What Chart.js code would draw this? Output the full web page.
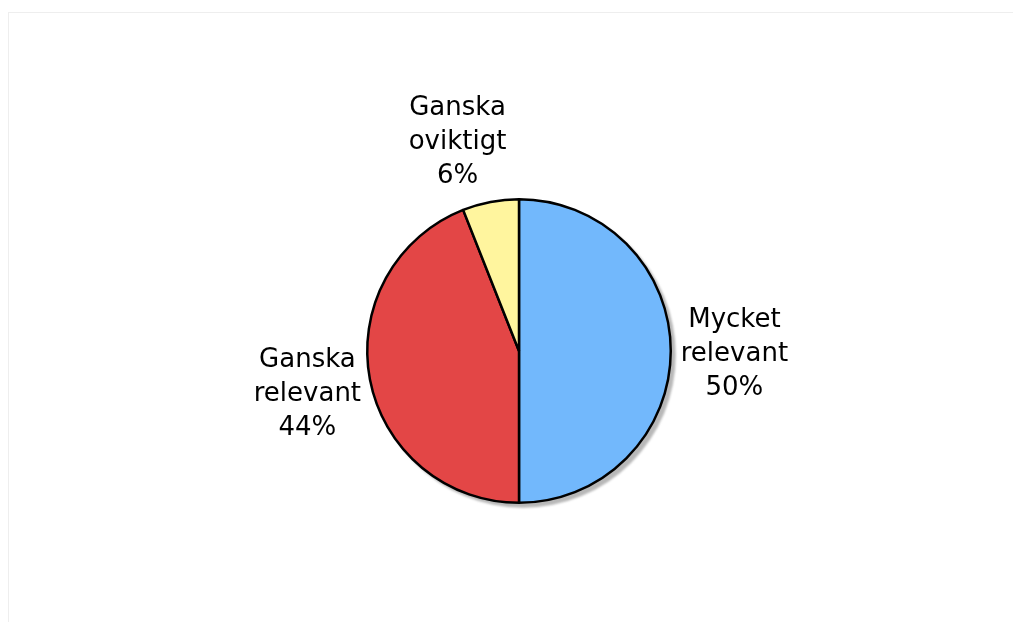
<!DOCTYPE html>
<html>
<head>
<meta charset="utf-8">
<script src="https://cdn.jsdelivr.net/npm/chart.js@4"></script>
<style>
  body { margin: 0; background: #fff; }
  #frame { position: absolute; left: 8px; top: 12px; width: 1020px; height: 630px; border: 1px solid #eeeeee; box-sizing: border-box; }
  #pie { position: absolute; left: 0; top: 0; }
</style>
</head>
<body>
<div id="frame"></div>
<canvas id="pie" width="1013" height="622"></canvas>
<script>
// data
const labels = [["Mycket", "relevant"], ["Ganska", "relevant"], ["Ganska", "oviktigt"]];
const values = [50, 44, 6];
const colors = ["#72b8fc", "#e34646", "#fff59e"];

// grey drop shadow under the pie
const shadowPlugin = {
  id: 'pieShadow',
  beforeDatasetsDraw(chart) {
    const arc = chart.getDatasetMeta(0).data[0];
    if (!arc) return;
    const ctx = chart.ctx;
    ctx.save();
    ctx.beginPath();
    ctx.arc(arc.x + 4, arc.y + 4, arc.outerRadius + 1, 0, Math.PI * 2);
    ctx.fillStyle = '#b8b8b8';
    ctx.filter = 'blur(1px)';
    ctx.fill();
    ctx.restore();
  }
};

// labels outside each slice, box pushed outward from the edge
const labelPlugin = {
  id: 'outLabels',
  afterDatasetsDraw(chart) {
    const ctx = chart.ctx;
    const meta = chart.getDatasetMeta(0);
    const total = values.reduce((a, b) => a + b, 0);
    const lh = 34;
    ctx.save();
    ctx.font = '26px "DejaVu Sans"';
    ctx.fillStyle = '#000';
    ctx.textAlign = 'center';
    ctx.textBaseline = 'middle';
    meta.data.forEach((arc, i) => {
      const mid = (arc.startAngle + arc.endAngle) / 2;
      const d = arc.outerRadius + 10;
      const lines = labels[i].concat([Math.round(values[i] / total * 100) + '%']);
      const halfW = Math.max(...lines.map(t => ctx.measureText(t).width)) / 2;
      const halfH = lines.length * lh / 2;
      let cx = arc.x + Math.cos(mid) * (d + halfW);
      let cy = arc.y + Math.sin(mid) * d + Math.sin(mid) * halfH + 3;
      // small top slice: label sits a bit to the left and higher
      if (Math.abs(Math.cos(mid)) < 0.3) { cx -= 22; cy -= 3; }
      lines.forEach((t, j) => {
        ctx.fillText(t, cx, cy + (j - (lines.length - 1) / 2) * lh);
      });
    });
    ctx.restore();
  }
};

const ctx = document.getElementById('pie').getContext('2d');
new Chart(ctx, {
  type: 'pie',
  data: {
    labels: labels,
    datasets: [{
      data: values,
      backgroundColor: colors,
      borderColor: '#000',
      borderWidth: 2.5
    }]
  },
  options: {
    responsive: false,
    animation: false,
    layout: { padding: { left: 25, right: 0, top: 198, bottom: 118 } },
    plugins: {
      legend: { display: false },
      tooltip: { enabled: false }
    }
  },
  plugins: [shadowPlugin, labelPlugin]
});
</script>
</body>
</html>
